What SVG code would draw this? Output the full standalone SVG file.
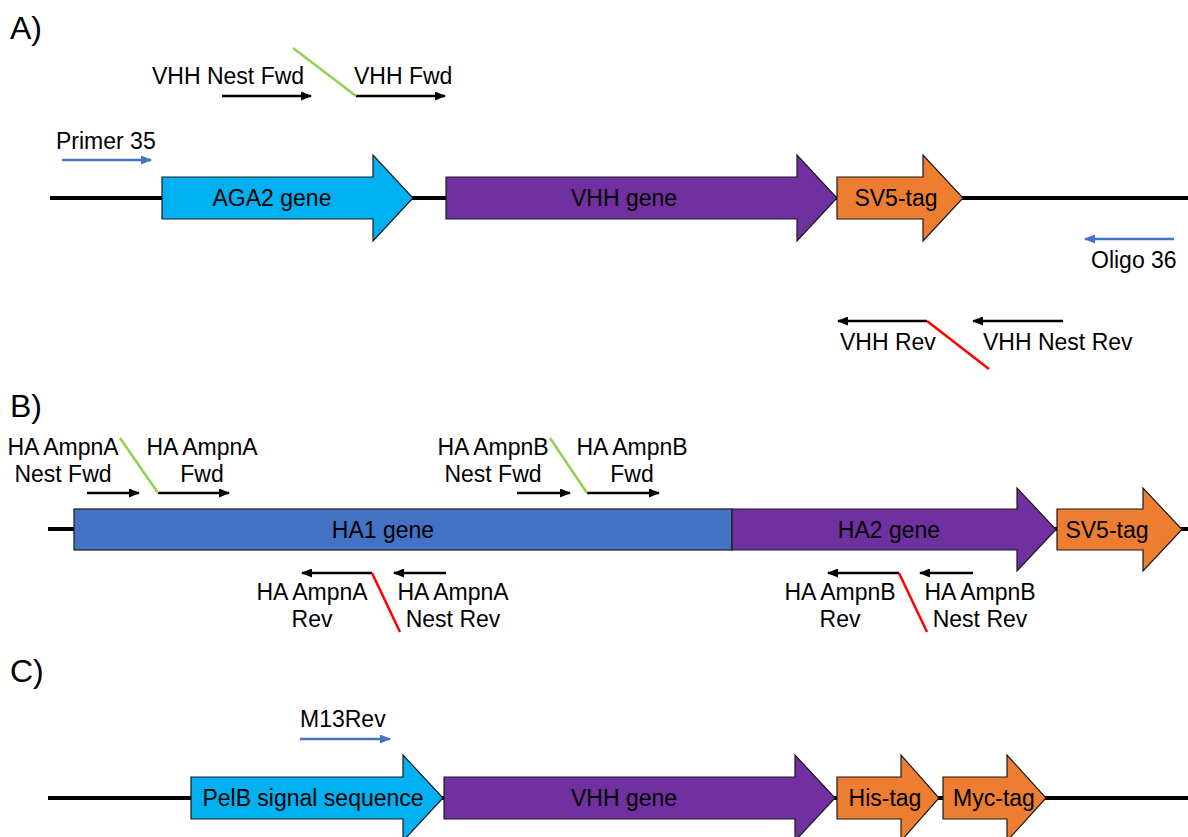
<svg xmlns="http://www.w3.org/2000/svg" width="1188" height="837" viewBox="0 0 1188 837">
<style>
text{font-family:"Liberation Sans",Arial,sans-serif;font-size:23px;fill:#000}
.sec{font-size:32px}
.mid{text-anchor:middle}
.bb{stroke:#000;stroke-width:4;fill:none}
.gene{stroke:#1a1a1a;stroke-width:1.2}
.blue{fill:#4472C4}
.cyan{fill:#00B0F0}
.purple{fill:#7030A0}
.orange{fill:#ED7D31}
.pk{stroke:#000;stroke-width:2.5;fill:none;marker-end:url(#ak)}
.pb{stroke:#4472C4;stroke-width:2.5;fill:none;marker-end:url(#ab)}
.green{stroke:#92D050;stroke-width:2.5;fill:none}
.red{stroke:#FF0000;stroke-width:2.5;fill:none}
</style>
<defs>
<marker id="ak" markerUnits="userSpaceOnUse" markerWidth="11" markerHeight="9" refX="10" refY="4.5" orient="auto"><path d="M0,0 L11,4.5 L0,9 Z" fill="#000"/></marker>
<marker id="ab" markerUnits="userSpaceOnUse" markerWidth="11" markerHeight="9" refX="10" refY="4.5" orient="auto"><path d="M0,0 L11,4.5 L0,9 Z" fill="#4472C4"/></marker>
</defs>
<rect width="1188" height="837" fill="#fff"/>

<text class="sec" x="10" y="39">A)</text>
<text class="sec" x="10" y="417">B)</text>
<text class="sec" x="10" y="682">C)</text>

<g id="backbones">
<line class="bb" x1="50" y1="198" x2="1188" y2="198"/>
<line class="bb" x1="48" y1="529" x2="1188" y2="529"/>
<line class="bb" x1="48" y1="798" x2="1188" y2="798"/>
</g>

<!-- Section A -->
<g id="aga2"><path class="gene cyan" d="M162,177 H373 V155 L413,198 L373,241 V219 H162 Z"/><text class="mid" x="272" y="206">AGA2 gene</text></g>
<g id="vhhA"><path class="gene purple" d="M446,177 H797 V155 L837,198 L797,241 V219 H446 Z"/><text class="mid" x="624" y="206">VHH gene</text></g>
<g id="sv5A"><path class="gene orange" d="M837,177 H923 V155 L963,198 L923,241 V219 H837 Z"/><text class="mid" x="896" y="206">SV5-tag</text></g>

<g id="primer35"><text x="56" y="149">Primer 35</text></g>
<g id="vhhNestFwd"><text x="152" y="84">VHH Nest Fwd</text></g>
<g id="vhhFwd"><text x="354" y="84">VHH Fwd</text></g>
<g id="oligo36"><text x="1091" y="268">Oligo 36</text></g>
<g id="vhhRev"><text x="840" y="350">VHH Rev</text></g>
<g id="vhhNestRev"><text x="983" y="350">VHH Nest Rev</text></g>

<!-- Section B -->
<g id="ha1"><rect class="gene blue" x="74" y="509" width="658" height="41"/><text class="mid" x="383" y="538">HA1 gene</text></g>
<g id="ha2"><path class="gene purple" d="M732,509 H1017 V488 L1056,529.5 L1017,571 V550 H732 Z"/><text class="mid" x="889" y="538">HA2 gene</text></g>
<g id="sv5B"><path class="gene orange" d="M1057,509 H1143 V488 L1182,529.5 L1143,571 V550 H1057 Z"/><text class="mid" x="1107" y="538">SV5-tag</text></g>

<g id="haANestFwd"><text class="mid" x="63" y="455">HA AmpnA</text><text class="mid" x="63" y="482">Nest Fwd</text></g>
<g id="haAFwd"><text class="mid" x="202" y="455">HA AmpnA</text><text class="mid" x="202" y="482">Fwd</text></g>
<g id="haBNestFwd"><text class="mid" x="493" y="455">HA AmpnB</text><text class="mid" x="493" y="482">Nest Fwd</text></g>
<g id="haBFwd"><text class="mid" x="632" y="455">HA AmpnB</text><text class="mid" x="632" y="482">Fwd</text></g>
<g id="haARev"><text class="mid" x="312" y="600">HA AmpnA</text><text class="mid" x="312" y="627">Rev</text></g>
<g id="haANestRev"><text class="mid" x="453" y="600">HA AmpnA</text><text class="mid" x="453" y="627">Nest Rev</text></g>
<g id="haBRev"><text class="mid" x="840" y="600">HA AmpnB</text><text class="mid" x="840" y="627">Rev</text></g>
<g id="haBNestRev"><text class="mid" x="980" y="600">HA AmpnB</text><text class="mid" x="980" y="627">Nest Rev</text></g>

<!-- Section C -->
<g id="pelb"><path class="gene cyan" d="M191,777 H403 V755 L443,798 L403,841 V819 H191 Z"/><text class="mid" x="313" y="806">PelB signal sequence</text></g>
<g id="vhhC"><path class="gene purple" d="M444,777 H795 V755 L835,798 L795,841 V819 H444 Z"/><text class="mid" x="624" y="806">VHH gene</text></g>
<g id="his"><path class="gene orange" d="M837,777 H901 V755 L939,798 L901,841 V819 H837 Z"/><text class="mid" x="885" y="806">His-tag</text></g>
<g id="myc"><path class="gene orange" d="M943,777 H1007 V755 L1046,798 L1007,841 V819 H943 Z"/><text class="mid" x="994" y="806">Myc-tag</text></g>
<g id="m13rev"><text x="300" y="727">M13Rev</text></g>

<g id="connectors">
<line class="pb" x1="62" y1="160" x2="151" y2="160"/>
<line class="pk" x1="222" y1="96" x2="311" y2="96"/>
<line class="pk" x1="356" y1="96" x2="445" y2="96"/>
<line class="green" x1="293" y1="48" x2="356" y2="96"/>
<line class="pb" x1="1174" y1="239" x2="1085" y2="239"/>
<line class="pk" x1="927" y1="321" x2="838" y2="321"/>
<line class="pk" x1="1063" y1="321" x2="973" y2="321"/>
<line class="red" x1="927" y1="321" x2="989" y2="369"/>

<line class="pk" x1="87" y1="493" x2="139" y2="493"/>
<line class="pk" x1="158" y1="493" x2="229" y2="493"/>
<line class="green" x1="120" y1="438" x2="158" y2="493"/>
<line class="pk" x1="517" y1="493" x2="570" y2="493"/>
<line class="pk" x1="587" y1="493" x2="659" y2="493"/>
<line class="green" x1="550" y1="438" x2="587" y2="493"/>
<line class="pk" x1="372" y1="573" x2="302" y2="573"/>
<line class="pk" x1="446" y1="573" x2="394" y2="573"/>
<line class="red" x1="372" y1="573" x2="400" y2="632"/>
<line class="pk" x1="899" y1="573" x2="828" y2="573"/>
<line class="pk" x1="973" y1="573" x2="920" y2="573"/>
<line class="red" x1="899" y1="573" x2="927" y2="632"/>

<line class="pb" x1="300" y1="739" x2="390" y2="739"/>
</g>
</svg>
